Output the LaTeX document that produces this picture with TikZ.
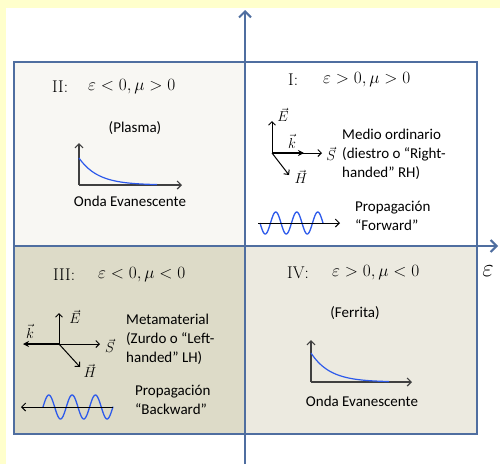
\documentclass[tikz,border=0pt]{standalone}
\usepackage{amsmath}
\usepackage{fontspec}
\setsansfont{Carlito}
\usetikzlibrary{arrows.meta}

\definecolor{pageyellow}{RGB}{255,255,204}
\definecolor{axisblue}{RGB}{79,110,160}
\definecolor{fillII}{RGB}{248,247,243}
\definecolor{fillIII}{RGB}{221,219,200}
\definecolor{fillIV}{RGB}{236,234,224}
\definecolor{waveblue}{RGB}{45,90,235}
\definecolor{plotgray}{RGB}{64,64,64}

\begin{document}
\begin{tikzpicture}[x=1pt, y=-1pt,
    axis/.style={axisblue, line width=2pt},
    axisarrow/.style={axis, -{Straight Barb[length=6pt,width=12pt]}},
    romlbl/.style={font=\fontsize{17}{20}\selectfont, anchor=west, inner sep=0pt},
    condlbl/.style={font=\fontsize{17}{20}\selectfont, anchor=west, inner sep=0pt},
    caption/.style={font=\sffamily\fontsize{15}{19}\selectfont, inner sep=0pt, align=left},
    veclbl/.style={font=\fontsize{14}{16}\selectfont, inner sep=0pt},
    vec/.style={-{Straight Barb[length=3.5pt,width=7pt]}, line width=1pt},
    kvec/.style={-{Stealth[length=6pt,width=6pt]}, line width=2pt},
    propline/.style={-{Straight Barb[length=4pt,width=8pt]}, line width=1pt},
    wave/.style={waveblue, line width=1.3pt},
    evaxis/.style={-{Straight Barb[length=4pt,width=8pt]}, plotgray, line width=1.2pt},
    decay/.style={waveblue, line width=1.2pt}]

  % Page and background
  \useasboundingbox (0,0) rectangle (500,464);
  \fill[pageyellow] (0,0) rectangle (500,464);
  \fill[white] (6,8) rectangle (500,464);

  % Quadrants
  \fill[fillII] (14,62) rectangle (245,246);
  \fill[white] (245,62) rectangle (477,246);
  \fill[fillIII] (14,246) rectangle (245,434);
  \fill[fillIV] (245,246) rectangle (477,434);
  \draw[axis] (14,62) rectangle (477,434);

  % Axes
  \coordinate (vbot) at (245,464);
  \coordinate (vtop) at (245,10);
  \coordinate (hleft) at (14,246);
  \coordinate (hright) at (498,246);
  \draw[axisarrow] (vbot) -- (vtop);
  \draw[axisarrow] (hleft) -- (hright);
  \node[font=\fontsize{28}{30}\selectfont, inner sep=0pt] (epslbl) at (488,271) {$\varepsilon$};

  % Quadrant titles
  \node[romlbl] (romII) at (52,87) {II:};
  \node[condlbl] (condII) at (88,87) {$\varepsilon<0,\mu>0$};
  \node[romlbl] (romI) at (288,80) {I:};
  \node[condlbl] (condI) at (323,80) {$\varepsilon>0,\mu>0$};
  \node[romlbl] (romIII) at (53,275) {III:};
  \node[condlbl] (condIII) at (98,275) {$\varepsilon<0,\mu<0$};
  \node[romlbl] (romIV) at (287,273) {IV:};
  \node[condlbl] (condIV) at (332,273) {$\varepsilon>0,\mu<0$};

  % Evanescent waves (II and IV)
  \node[caption] (plasma) at (135,128) {(Plasma)};
  \node[caption] (evanII) at (130,201) {Onda Evanescente};
  \node[caption] (ferrita) at (355,313) {(Ferrita)};
  \node[caption] (evanIV) at (362,401) {Onda Evanescente};
  \foreach \ox/\oy/\uy/\rx/\dy [count=\i] in {79/185/143/182/27, 311/382/340/412/29} {
    \coordinate (evo\i) at (\ox,\oy);
    \coordinate (evu\i) at (\ox,\uy);
    \coordinate (evr\i) at (\rx,\oy);
    \draw[evaxis] (evo\i) -- (evu\i);
    \draw[evaxis] (evo\i) -- (evr\i);
    \draw[decay] plot[domain=0:78, samples=60] ({\ox+\x},{\oy-\dy*exp(-\x/19)});
  }

  % Quadrant I: right-handed triad
  \coordinate (oI) at (272,153);
  \coordinate (eI) at (272,121);
  \coordinate (kI) at (304,153);
  \coordinate (sI) at (322,153);
  \coordinate (hI) at (289,175);
  \draw[vec] (oI) -- (eI);
  \draw[vec] (oI) -- (sI);
  \draw[kvec] (oI) -- (kI);
  \draw[vec] (oI) -- (hI);
  \node[veclbl] (lblEI) at (283,115) {$\vec{E}$};
  \node[veclbl] (lblkI) at (292,141) {$\vec{k}$};
  \node[veclbl] (lblSI) at (331,154) {$\vec{S}$};
  \node[veclbl] (lblHI) at (301,177) {$\vec{H}$};
  \node[caption, anchor=west] (rhtext) at (342,154)
    {Medio ordinario\\(diestro o “Right-\\handed” RH)};

  % Quadrant I: forward propagation
  \coordinate (fwdstart) at (258,223);
  \coordinate (fwdend) at (340,223);
  \draw[wave] plot[domain=0:63, samples=120] ({260+\x},{223+11*sin(\x/21*360)});
  \draw[propline] (fwdstart) -- (fwdend);
  \node[caption, anchor=west] (fwdtext) at (355,216) {Propagación\\“Forward”};

  % Quadrant III: left-handed triad
  \coordinate (oIII) at (59,344);
  \coordinate (eIII) at (59,313);
  \coordinate (kIII) at (23,344);
  \coordinate (sIII) at (100,344);
  \coordinate (hIII) at (80,367);
  \draw[vec] (oIII) -- (eIII);
  \draw[vec] (oIII) -- (sIII);
  \draw[kvec] (oIII) -- (kIII);
  \draw[vec] (oIII) -- (hIII);
  \node[veclbl] (lblEIII) at (75,317) {$\vec{E}$};
  \node[veclbl] (lblkIII) at (30,331) {$\vec{k}$};
  \node[veclbl] (lblSIII) at (110,346) {$\vec{S}$};
  \node[veclbl] (lblHIII) at (90,371) {$\vec{H}$};
  \node[caption, anchor=west] (lhtext) at (126,339)
    {Metamaterial\\(Zurdo o “Left-\\handed” LH)};

  % Quadrant III: backward propagation
  \coordinate (bwdstart) at (113,407);
  \coordinate (bwdend) at (21,407);
  \draw[wave] plot[domain=0:70, samples=120] ({43+\x},{407-12*sin(\x/23.3*360)});
  \draw[propline] (bwdstart) -- (bwdend);
  \node[caption, anchor=west] (bwdtext) at (135,400) {Propagación\\“Backward”};
\end{tikzpicture}
\end{document}
